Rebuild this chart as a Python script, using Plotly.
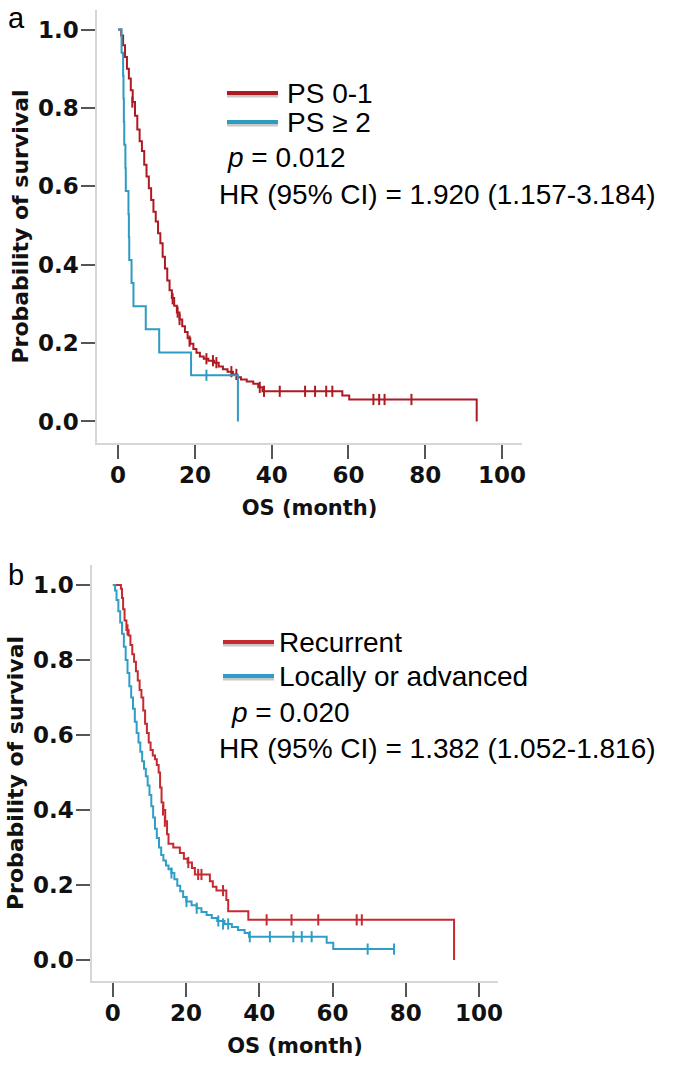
import plotly.graph_objects as go

# ---------------- Panel a: PS 0-1 vs PS >= 2 ----------------
a_ps01_time = [0, 0.8, 1.3, 1.8, 2.3, 2.8, 3.3, 3.8, 4.4, 5.0, 5.6, 6.2, 6.8, 7.4, 8.0, 8.6,
               9.2, 9.8, 10.4, 11.0, 11.6, 12.2, 12.8, 13.4, 14.0, 14.6, 15.3, 16.0, 16.7,
               17.4, 18.1, 18.8, 19.6, 20.4, 21.3, 22.3, 23.5, 25.0, 26.2, 27.3, 28.5, 29.9,
               31.0, 32.0, 33.5, 35.2, 36.5, 37.6, 58.4, 60.2, 93.4]
a_ps01_surv = [1.0, 0.985, 0.96, 0.93, 0.90, 0.875, 0.845, 0.815, 0.78, 0.745, 0.715, 0.69,
               0.655, 0.625, 0.595, 0.565, 0.535, 0.51, 0.48, 0.455, 0.42, 0.39, 0.36, 0.335,
               0.315, 0.295, 0.278, 0.26, 0.243, 0.228, 0.212, 0.198, 0.185, 0.175, 0.166,
               0.16, 0.155, 0.15, 0.14, 0.133, 0.127, 0.12, 0.113, 0.107, 0.102, 0.096, 0.087,
               0.077, 0.066, 0.056, 0.0]
a_ps01_cens_time = [3.7, 14.2, 15.5, 16.0, 18.6, 23.0, 24.7, 25.6, 29.5, 30.8, 36.9,
                    38.0, 42.1, 48.7, 51.3, 54.2, 55.8, 66.5, 68.0, 69.4, 76.4]
a_ps01_cens_surv = [0.815, 0.313, 0.279, 0.26, 0.205, 0.16, 0.155, 0.15, 0.127, 0.12, 0.087,
                    0.077, 0.077, 0.077, 0.077, 0.077, 0.077, 0.056, 0.056, 0.056, 0.056]

a_ps2_time = [0, 0.9, 1.3, 1.4, 1.5, 1.6, 1.9, 2.0, 2.7, 2.8, 2.9, 3.5, 4.0, 7.2, 10.7, 19.0, 31.2]
a_ps2_surv = [1.0, 0.941, 0.882, 0.824, 0.765, 0.706, 0.647, 0.588, 0.529, 0.471, 0.412,
              0.353, 0.294, 0.235, 0.176, 0.118, 0.0]
a_ps2_cens_time = [23.0]
a_ps2_cens_surv = [0.118]

# ---------------- Panel b: Recurrent vs Locally or advanced ----------------
b_rec_time = [0, 2.2, 2.5, 2.8, 3.2, 3.7, 4.3, 4.8, 5.3, 5.8, 6.3, 6.8, 7.3, 7.8, 8.3, 8.8,
              9.3, 9.8, 10.3, 10.9, 11.5, 12.0, 12.5, 12.9, 13.3, 13.8, 14.3, 14.8, 15.2,
              16.5, 18.3, 19.4, 20.4, 21.6, 22.4, 26.5, 27.3, 28.3, 31.0, 31.5, 37.0, 93.2]
b_rec_surv = [1.0, 0.99, 0.965, 0.935, 0.905, 0.88, 0.865, 0.84, 0.815, 0.795, 0.77, 0.745,
              0.72, 0.70, 0.665, 0.63, 0.605, 0.58, 0.56, 0.545, 0.535, 0.52, 0.50, 0.46,
              0.42, 0.40, 0.37, 0.335, 0.31, 0.30, 0.285, 0.27, 0.26, 0.245, 0.228, 0.21,
              0.195, 0.185, 0.16, 0.13, 0.107, 0.0]
b_rec_cens_time = [4.0, 13.7, 14.2, 20.6, 23.3, 24.2, 30.1, 42.0, 48.8, 56.1, 66.6, 68.0]
b_rec_cens_surv = [0.88, 0.40, 0.37, 0.26, 0.228, 0.228, 0.185, 0.107, 0.107, 0.107, 0.107, 0.107]

b_loc_time = [0, 0.6, 1.0, 1.5, 2.0, 2.5, 3.0, 3.5, 4.0, 4.5, 5.0, 5.5, 6.0, 6.5, 7.0, 7.5,
              8.0, 8.5, 9.0, 9.5, 10.0, 10.5, 11.0, 11.5, 12.0, 12.6, 13.2, 13.8, 14.5, 15.2,
              16.0, 16.8, 17.6, 18.4, 19.2, 20.1, 21.5, 22.9, 24.2, 25.6, 27.0, 28.5, 30.5,
              32.5, 34.2, 36.0, 37.2, 58.4, 60.2, 76.8]
b_loc_surv = [1.0, 0.985, 0.96, 0.93, 0.90, 0.87, 0.835, 0.80, 0.765, 0.73, 0.70, 0.67, 0.635,
              0.605, 0.58, 0.555, 0.53, 0.51, 0.49, 0.465, 0.44, 0.41, 0.38, 0.35, 0.325, 0.30,
              0.28, 0.265, 0.252, 0.242, 0.232, 0.215, 0.198, 0.183, 0.168, 0.156, 0.146,
              0.138, 0.128, 0.12, 0.112, 0.104, 0.096, 0.088, 0.08, 0.072, 0.062, 0.046,
              0.029, 0.029]
b_loc_cens_time = [16.0, 20.1, 22.9, 28.8, 30.1, 31.5, 37.4, 42.9, 49.3, 51.6, 54.3, 69.6, 76.8]
b_loc_cens_surv = [0.232, 0.156, 0.138, 0.104, 0.096, 0.096, 0.062, 0.062, 0.062, 0.062,
                   0.062, 0.029, 0.029]

x_ticks = [0, 20, 40, 60, 80, 100]
y_ticks = [0.0, 0.2, 0.4, 0.6, 0.8, 1.0]
y_ticktext = ["0.0", "0.2", "0.4", "0.6", "0.8", "1.0"]

RED_A = "#AE1A22"
BLUE_A = "#2E9BC2"
RED_B = "#C62A31"
BLUE_B = "#2E9EC6"

# page body margin is removed by the post script, so the figure fills the window
OFF = 0
W, H = 675, 1066

fig = go.Figure()


def add_km(t, s, ct, cs, color, xa, ya, name):
    fig.add_trace(go.Scatter(x=t, y=s, mode="lines", line=dict(color=color, width=2, shape="hv"),
                             name=name, showlegend=False, xaxis=xa, yaxis=ya))
    fig.add_trace(go.Scatter(x=ct, y=cs, mode="markers",
                             marker=dict(symbol="line-ns-open", size=8, color=color,
                                         line=dict(color=color, width=2)),
                             name=name + " censored", showlegend=False, xaxis=xa, yaxis=ya))


add_km(a_ps01_time, a_ps01_surv, a_ps01_cens_time, a_ps01_cens_surv, RED_A, "x", "y", "PS 0-1")
add_km(a_ps2_time, a_ps2_surv, a_ps2_cens_time, a_ps2_cens_surv, BLUE_A, "x", "y", "PS ≥ 2")
add_km(b_rec_time, b_rec_surv, b_rec_cens_time, b_rec_cens_surv, RED_B, "x2", "y2", "Recurrent")
add_km(b_loc_time, b_loc_surv, b_loc_cens_time, b_loc_cens_surv, BLUE_B, "x2", "y2",
       "Locally or advanced")

tickfont = dict(family="DejaVu Sans", size=23, color="#111", weight="bold")
xtitlefont = dict(family="DejaVu Sans", size=21, color="#111", weight="bold")
ytitlefont = dict(family="DejaVu Sans", size=22, color="#111", weight="bold")

common_x = dict(showline=True, linecolor="#d6d6d6", linewidth=1.5, ticks="outside", ticklen=14,
                tickwidth=2, tickcolor="#555", tickvals=x_ticks, tickfont=tickfont,
                ticklabelstandoff=-3, showgrid=False, zeroline=False, automargin=False)
common_y = dict(showline=True, linecolor="#d6d6d6", linewidth=1.5, ticks="outside", ticklen=14,
                tickwidth=2, tickcolor="#555", tickvals=y_ticks, ticktext=y_ticktext,
                tickfont=tickfont, ticklabelstandoff=-2, showgrid=False, zeroline=False,
                automargin=False)


def px_x(p):
    return (p - OFF) / W


def px_y(p):
    return 1 - (p - OFF) / H


fig.update_layout(
    width=W, height=H,
    margin=dict(l=0, r=0, t=0, b=0),
    paper_bgcolor="white", plot_bgcolor="white",
    xaxis=dict(domain=[px_x(97), px_x(522)], range=[-5.5, 105.2], anchor="y",
               title=dict(text="OS (month)", font=xtitlefont, standoff=13), **common_x),
    yaxis=dict(domain=[px_y(443), px_y(10)], range=[-0.055, 1.05], anchor="x",
               title=dict(text="Probability of survival", font=ytitlefont, standoff=3),
               **common_y),
    xaxis2=dict(domain=[px_x(92), px_x(498)], range=[-5.7, 105.2], anchor="y2",
                title=dict(text="OS (month)", font=xtitlefont, standoff=13), **common_x),
    yaxis2=dict(domain=[px_y(981), px_y(565)], range=[-0.056, 1.053], anchor="x2",
                title=dict(text="Probability of survival", font=ytitlefont, standoff=3),
                **common_y),
)

textfont = dict(family="Liberation Sans, Arial", size=28, color="black")

annotations = []
shapes = []


def legend_line(x0, x1, y, color):
    shapes.append(dict(type="line", xref="paper", yref="paper", x0=px_x(x0), x1=px_x(x1),
                       y0=px_y(y + 2.5), y1=px_y(y + 2.5), line=dict(color="#c8c8c8", width=4)))
    shapes.append(dict(type="line", xref="paper", yref="paper", x0=px_x(x0), x1=px_x(x1),
                       y0=px_y(y), y1=px_y(y), line=dict(color=color, width=4)))


def text(x, y, s, size=28, yanchor="middle"):
    annotations.append(dict(xref="paper", yref="paper", x=px_x(x), y=px_y(y), text=s,
                            showarrow=False, xanchor="left", yanchor=yanchor,
                            font=dict(textfont, size=size)))


# panel a
text(6, 36, "a", size=29, yanchor="bottom")
legend_line(227, 278, 93, RED_A)
legend_line(227, 278, 122, BLUE_A)
text(285, 93, "PS 0-1")
text(285, 122, "PS ≥ 2")
text(225, 157, "<i>p</i> = 0.012")
text(217, 195, "HR (95% CI) = 1.920 (1.157-3.184)")

# panel b
text(6, 593, "b", size=29, yanchor="bottom")
legend_line(223, 274, 642, RED_B)
legend_line(223, 274, 676, BLUE_B)
text(277, 642, "Recurrent")
text(277, 676, "Locally or advanced")
text(229, 712, "<i>p</i> = 0.020")
text(217, 748, "HR (95% CI) = 1.382 (1.052-1.816)")

fig.update_layout(annotations=annotations, shapes=shapes)

fig.write_html("out.html", config={"displayModeBar": False},
               post_script="document.body.style.margin='0';document.body.style.overflow='hidden';")
